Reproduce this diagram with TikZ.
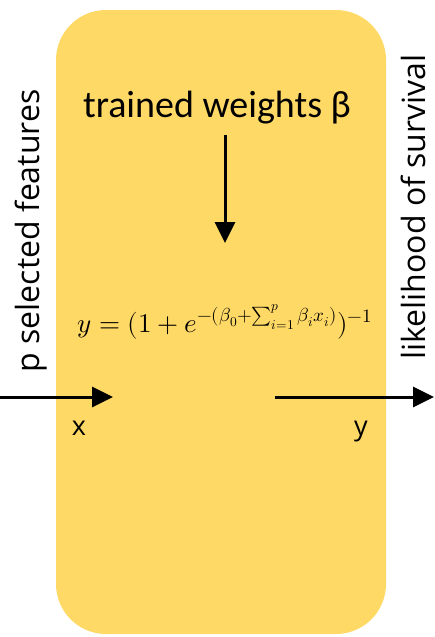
\documentclass[tikz,border=0pt]{standalone}
\usepackage{fontspec}
\usepackage{unicode-math}
\setmainfont{Carlito}
\setmathfont{Latin Modern Math}
\newfontfamily\sidefont{Open Sans}
\usetikzlibrary{arrows.meta}
\definecolor{boxgold}{HTML}{FFD966}
\tikzset{
  flow/.style={line width=3pt,-{Triangle[length=21pt,width=20pt]}},
  sidelabel/.style={font=\sidefont\fontsize{32}{38}\selectfont,inner sep=0pt,rotate=90},
  iolabel/.style={font=\sidefont\fontsize{27}{32}\selectfont,inner sep=0pt,anchor=base},
}
\begin{document}
\begin{tikzpicture}[x=1pt,y=-1pt]
\useasboundingbox (0,0) rectangle (434,637);
\fill[boxgold,rounded corners=50pt] (56,10) rectangle (386,634);
\node[font=\fontsize{38}{44}\selectfont,inner sep=0pt] (tw) at (217,108) {trained weights β};
\coordinate (twend) at (225,243);
\draw[flow] (225,135) -- (twend);
\node[font=\fontsize{27}{32}\selectfont,inner sep=0pt] (eq) at (225,322)
  {$y=(1+e^{-(\beta_0+\sum_{i=1}^{p}\beta_i x_i)})^{-1}$};
\coordinate (inA) at (0,397);
\coordinate (inB) at (113,397);
\coordinate (outA) at (275,397);
\coordinate (outB) at (434,397);
\draw[flow] (inA) -- (inB);
\draw[flow] (outA) -- (outB);
\node[iolabel] (xl) at (79,435) {x};
\node[iolabel] (yl) at (361,435) {y};
\node[sidelabel] (pf) at (31,231) {p selected features};
\node[sidelabel] (ls) at (413,207) {likelihood of survival};
\end{tikzpicture}
\end{document}
